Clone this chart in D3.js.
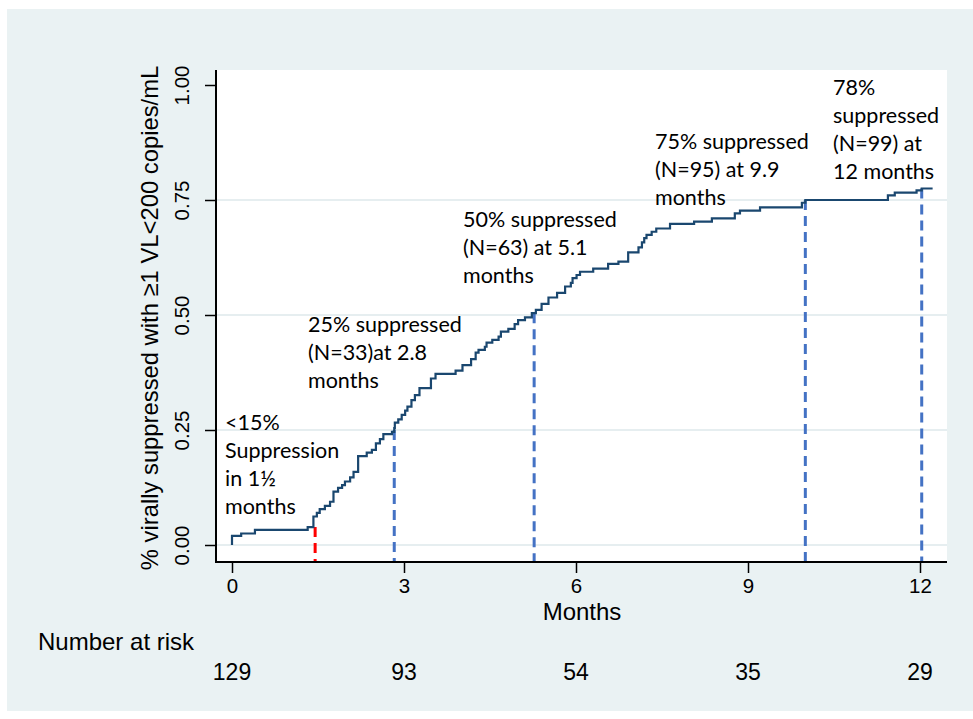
<!DOCTYPE html>
<html>
<head>
<meta charset="utf-8">
<style>
body { margin: 0; background: #fff; }
svg text { font-family: "Liberation Sans", Arial, sans-serif; }
</style>
</head>
<body>
<svg id="km"></svg>
<script src="https://cdn.jsdelivr.net/npm/d3@7"></script>
<script>
// Kaplan-Meier style cumulative suppression
var eventMonths = [0, 0.16, 0.40, 1.32, 1.42, 1.48, 1.53, 1.62, 1.71, 1.77, 1.85, 1.92, 1.97, 2.06, 2.12,
  2.20, 2.35, 2.44, 2.51, 2.58, 2.64, 2.79, 2.83, 2.84, 2.90, 2.96, 3.02, 3.06, 3.13, 3.19, 3.27,
  3.47, 3.55, 3.90, 4.02, 4.17, 4.25, 4.30, 4.41, 4.44, 4.54, 4.65, 4.69, 4.82, 4.93, 4.99, 5.11,
  5.23, 5.30, 5.40, 5.52, 5.67, 5.81, 5.91, 5.94, 6.01, 6.07, 6.30, 6.56, 6.74, 6.91, 7.09, 7.15,
  7.19, 7.23, 7.32, 7.40, 7.64, 8.06, 8.37, 8.77, 8.86, 9.21, 9.94, 10.00, 11.44, 11.56, 11.94, 12.03];
var suppressed = [0.020, 0.025, 0.033, 0.039, 0.062, 0.070, 0.078, 0.085, 0.094, 0.116, 0.124, 0.130, 0.138, 0.147, 0.159,
  0.193, 0.201, 0.207, 0.221, 0.230, 0.241, 0.246, 0.254, 0.266, 0.273, 0.283, 0.292, 0.301, 0.315, 0.326, 0.341,
  0.362, 0.372, 0.379, 0.391, 0.404, 0.418, 0.424, 0.431, 0.440, 0.446, 0.453, 0.464, 0.470, 0.480, 0.489, 0.495,
  0.504, 0.511, 0.524, 0.538, 0.548, 0.562, 0.570, 0.580, 0.587, 0.594, 0.601, 0.611, 0.616, 0.636, 0.647, 0.658,
  0.667, 0.674, 0.681, 0.688, 0.698, 0.703, 0.710, 0.721, 0.727, 0.734, 0.744, 0.750, 0.760, 0.766, 0.771, 0.775];
var followUpEnd = 12.22;

var xTicks = [0, 3, 6, 9, 12];
var yTicks = [0, 0.25, 0.5, 0.75, 1];
var yGrid = [0, 0.25, 0.5, 0.75];

var riskMonths = [0, 3, 6, 9, 12];
var riskCounts = [129, 93, 54, 35, 29];

// reference lines: month, level reached
var refMonths = [1.45, 2.83, 5.27, 10.0, 12.03];
var refLevels = [0.039, 0.25, 0.504, 0.75, 0.775];
var refColors = ['#ff0000', '#4472c4', '#4472c4', '#4472c4', '#4472c4'];

var noteLines = [
  ['<15%', 'Suppression', 'in 1\u00bd', 'months'],
  ['25% suppressed', '(N=33)at 2.8', 'months'],
  ['50% suppressed', '(N=63) at 5.1', 'months'],
  ['75% suppressed', '(N=95) at 9.9', 'months'],
  ['78%', 'suppressed', '(N=99) at', '12 months']
];
var notePos = [[225, 430], [308, 332], [463, 227], [655, 149], [833, 95]];

var W = 973, H = 719;
var plot = {left: 216, right: 947, top: 70, bottom: 562};

var svg = d3.select('#km').attr('width', W).attr('height', H);

svg.append('rect').attr('x', 7).attr('y', 9).attr('width', W - 7).attr('height', 702)
  .style('fill', '#eaf2f3');
svg.append('rect').attr('x', plot.left).attr('y', plot.top)
  .attr('width', plot.right - plot.left).attr('height', plot.bottom - plot.top)
  .style('fill', '#ffffff');

var x = d3.scaleLinear().domain([0, 12]).range([232, 920]);
var y = d3.scaleLinear().domain([0, 1]).range([545, 85]);

// grid
svg.selectAll('.grid').data(yGrid).enter().append('line')
  .attr('x1', plot.left).attr('x2', plot.right)
  .attr('y1', function(d) { return y(d); }).attr('y2', function(d) { return y(d); })
  .style('stroke', '#e6eef0').style('stroke-width', 2);

// axes
var yAxis = svg.append('g').attr('transform', 'translate(' + plot.left + ',0)')
  .call(d3.axisLeft(y).tickValues(yTicks).tickSize(11).tickFormat(d3.format('.2f')));
var xAxis = svg.append('g').attr('transform', 'translate(0,' + plot.bottom + ')')
  .call(d3.axisBottom(x).tickValues(xTicks).tickSize(11));

[xAxis, yAxis].forEach(function(a) {
  a.select('.domain').remove();
  a.selectAll('.tick line').style('stroke', '#000').style('stroke-width', 1.5);
  a.selectAll('text').style('font-size', '20.5px').style('fill', '#000')
    .style('font-family', '"Liberation Sans", Arial, sans-serif');
});
xAxis.selectAll('text').attr('y', 16);
yAxis.selectAll('.tick text')
  .attr('x', null).attr('dy', null)
  .attr('transform', 'translate(-27,0) rotate(-90)')
  .attr('text-anchor', 'middle');

svg.append('line').attr('x1', plot.left).attr('x2', plot.left)
  .attr('y1', plot.top).attr('y2', plot.bottom + 1).style('stroke', '#000').style('stroke-width', 2);
svg.append('line').attr('x1', plot.left - 1).attr('x2', plot.right)
  .attr('y1', plot.bottom).attr('y2', plot.bottom).style('stroke', '#000').style('stroke-width', 2);

// reference dashed lines
svg.selectAll('.ref').data(refMonths).enter().append('line')
  .attr('x1', function(d) { return x(d); }).attr('x2', function(d) { return x(d); })
  .attr('y1', function(d, i) { return y(refLevels[i]); }).attr('y2', plot.bottom - 1)
  .style('stroke', function(d, i) { return refColors[i]; })
  .style('stroke-width', 3)
  .style('stroke-dasharray', '10,6');

// KM step curve
var pts = [[0, 0]];
eventMonths.forEach(function(t, i) { pts.push([t, suppressed[i]]); });
pts.push([followUpEnd, suppressed[suppressed.length - 1]]);
var line = d3.line()
  .x(function(d) { return x(d[0]); })
  .y(function(d) { return y(d[1]); })
  .curve(d3.curveStepAfter);
svg.append('path').attr('d', line(pts))
  .style('fill', 'none').style('stroke', '#1a476f').style('stroke-width', 2.2);

// titles
svg.append('text').attr('x', x(6) + 6).attr('y', 620).attr('text-anchor', 'middle')
  .style('font-size', '24px').text('Months');
svg.append('text')
  .attr('transform', 'translate(158,318) rotate(-90)')
  .attr('text-anchor', 'middle')
  .style('font-size', '23.8px')
  .text('% virally suppressed with \u22651 VL<200 copies/mL');

// number at risk
svg.append('text').attr('x', 38).attr('y', 650).style('font-size', '24px').text('Number at risk');
svg.selectAll('.risk').data(riskCounts).enter().append('text')
  .attr('x', function(d, i) { return x(riskMonths[i]); })
  .attr('y', 680).attr('text-anchor', 'middle')
  .style('font-size', '23px')
  .text(function(d) { return d; });

// annotations
noteLines.forEach(function(lines, i) {
  var t = svg.append('text')
    .attr('x', notePos[i][0]).attr('y', notePos[i][1])
    .style('font-family', 'Lato, "Open Sans", sans-serif')
    .style('font-size', '21.5px').style('fill', '#000');
  lines.forEach(function(s, j) {
    t.append('tspan').attr('x', notePos[i][0]).attr('y', notePos[i][1] + j * 28).text(s);
  });
});
</script>
</body>
</html>
